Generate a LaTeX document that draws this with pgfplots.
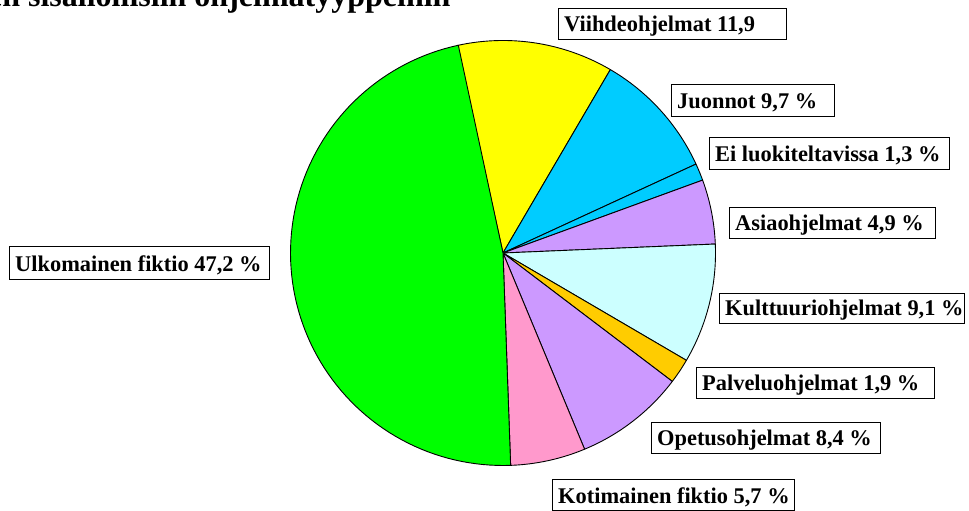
\documentclass[border=0pt]{standalone}
\usepackage{pgfplots}
\pgfplotsset{compat=1.18}
\usepackage{fontspec}
\setmainfont{Liberation Serif}
\definecolor{cUlko}{HTML}{00FF00}
\definecolor{cViihde}{HTML}{FFFF00}
\definecolor{cJuonnot}{HTML}{00CCFF}
\definecolor{cEi}{HTML}{00CCFF}
\definecolor{cAsia}{HTML}{CC99FF}
\definecolor{cKult}{HTML}{CCFFFF}
\definecolor{cPalv}{HTML}{FFCC00}
\definecolor{cOpet}{HTML}{CC99FF}
\definecolor{cKoti}{HTML}{FF99CC}
\newcommand\lblfont{\fontsize{22.4bp}{26bp}\selectfont\bfseries}
% pie centre and radius in axis units (1 unit = 1bp)
\def\cx{503}\def\cy{258}\def\rr{212.5}
\gdef\cur{102.5}
\newcommand\slice[2]{%
  \pgfmathsetmacro\nxt{\cur-3.6*#1}%
  \edef\temp{\noexpand\addplot[fill=#2, draw=black, line width=0.9pt, line join=round, domain=\nxt:\cur, samples=90, variable=\noexpand\t]
    ({\cx+\rr*cos(\noexpand\t)},{\cy+\rr*sin(\noexpand\t)}) -- (axis cs:\cx,\cy) -- cycle;}%
  \temp
  \global\let\cur\nxt
}
\newcommand\lbl[5]{%
  \draw[line width=0.8pt, fill=white] (axis cs:#1,#2) rectangle (axis cs:#3,#4);
  \node[anchor=base west, inner sep=0pt, font=\lblfont] at (axis cs:#1+6,#2+7) {#5};
}
\begin{document}
\begin{tikzpicture}
\path[use as bounding box] (0,0) rectangle (969bp,511bp);
\clip (0,0) rectangle (969bp,511bp);
\begin{axis}[at={(0,0)}, anchor=south west, width=969bp, height=511bp, scale only axis,
  xmin=0, xmax=969, ymin=0, ymax=511, hide axis, clip=false]
\slice{11.9}{cViihde}
\slice{9.7}{cJuonnot}
\slice{1.3}{cEi}
\slice{4.9}{cAsia}
\slice{9.1}{cKult}
\slice{1.9}{cPalv}
\slice{8.4}{cOpet}
\slice{5.7}{cKoti}
\slice{47.2}{cUlko}
\lbl{558}{472}{786}{503}{Viihdeohjelmat 11,9}
\lbl{671}{395}{834}{427}{Juonnot 9,7 \%}
\lbl{709}{342}{949}{374}{Ei luokiteltavissa 1,3 \%}
\lbl{729}{273}{935}{304}{Asiaohjelmat 4,9 \%}
\lbl{719}{188}{964}{218}{Kulttuuriohjelmat 9,1 \%}
\lbl{696}{113}{934}{144}{Palveluohjelmat 1,9 \%}
\lbl{651}{58}{880}{89}{Opetusohjelmat 8,4 \%}
\lbl{552}{0.5}{794}{32}{Kotimainen fiktio 5,7 \%}
\lbl{9}{232}{269}{265}{Ulkomainen fiktio 47,2 \%}
\node[anchor=base west, inner sep=0pt, font=\fontsize{32bp}{36bp}\selectfont\bfseries] at (axis cs:28,504)
  {\llap{Ohjelmatarjonnan jakautuminen }sisällöllisiin ohjelmatyyppeihin};
\end{axis}
\end{tikzpicture}
\end{document}
